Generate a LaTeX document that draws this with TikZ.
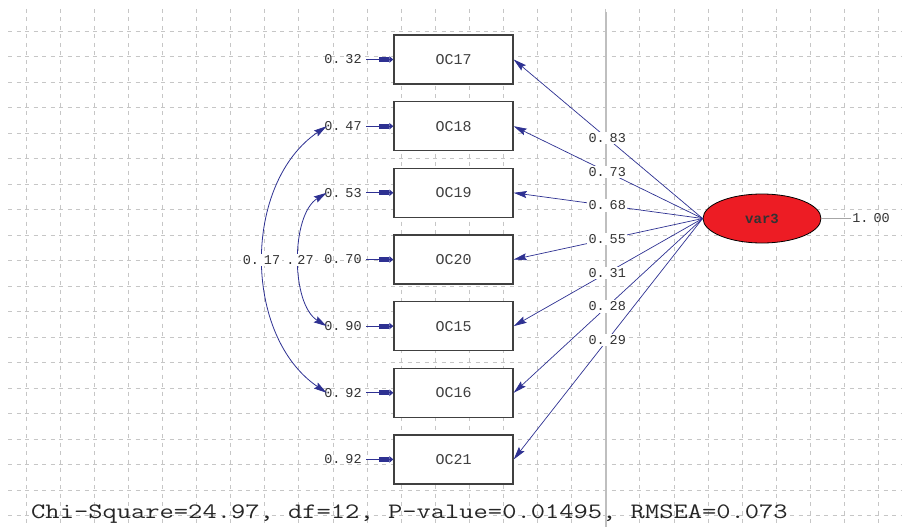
\documentclass[tikz,border=0pt]{standalone}
\usepackage{fontspec}
\newfontfamily\lmono{Liberation Mono}
\usetikzlibrary{arrows.meta,shapes.geometric}
\definecolor{lblue}{RGB}{46,49,146}
\definecolor{gridgray}{RGB}{198,198,198}
\definecolor{lred}{RGB}{237,28,36}
\newcommand\nv[2]{#1.\kern5pt#2}
\begin{document}
\begin{tikzpicture}[x=1pt,y=-1pt,
  ind/.style={draw=black!75, line width=1.4pt, fill=white, minimum width=119pt, minimum height=49pt, inner sep=0pt, font=\lmono\fontsize{15}{15}\selectfont, text=black!75},
  num/.style={font=\lmono\fontsize{13.5}{13.5}\selectfont, text=black!80, inner sep=1.5pt},
  lab/.style={num, fill=white},
  errarr/.style={lblue, line width=0.9pt, -{Rectangle[length=10pt,width=4.8pt]Triangle[length=4pt,width=6.5pt]}},
  ldarr/.style={lblue, line width=0.7pt, -{Stealth[length=13pt,width=7pt,inset=2pt]}},
  corarr/.style={lblue, line width=0.8pt, {Stealth[length=13pt,width=7pt,inset=2pt]}-{Stealth[length=13pt,width=7pt,inset=2pt]}},
  gridline/.style={gridgray, line width=0.8pt, dash pattern=on 4pt off 4.5pt},
  latent/.style={draw=black, line width=0.8pt, fill=lred, ellipse, minimum width=118pt, minimum height=49pt, inner sep=0pt, font=\lmono\bfseries\fontsize{14}{14}\selectfont, text=black!80}
]
\useasboundingbox (0,0) rectangle (902,527);
\fill[white] (0,0) rectangle (902,527);
\foreach \k in {0,...,19} \draw[gridline] (8,31+25.5*\k) -- (902,31+25.5*\k);
\foreach \k in {0,...,25} \draw[gridline] (26+34.1*\k,9) -- (26+34.1*\k,527);
\draw[gray!50, line width=1.3pt] (606,12) -- (606,527);

% indicators
\node[ind] (OC17) at (453.5,59.5) {OC17};
\node[ind] (OC18) at (453.5,126.2) {OC18};
\node[ind] (OC19) at (453.5,192.8) {OC19};
\node[ind] (OC20) at (453.5,259.5) {OC20};
\node[ind] (OC15) at (453.5,326.1) {OC15};
\node[ind] (OC16) at (453.5,392.8) {OC16};
\node[ind] (OC21) at (453.5,459.4) {OC21};

% error variances
\node[num] (e17) at (343,59.5) {\nv{0}{32}};
\node[num] (e18) at (343,126.2) {\nv{0}{47}};
\node[num] (e19) at (343,192.8) {\nv{0}{53}};
\node[num] (e20) at (343,259.5) {\nv{0}{70}};
\node[num] (e15) at (343,326.1) {\nv{0}{90}};
\node[num] (e16) at (343,392.8) {\nv{0}{92}};
\node[num] (e21) at (343,459.4) {\nv{0}{92}};
\foreach \i in {17,18,19,20,15,16,21}
  \draw[errarr] ([xshift=3pt]e\i.east) -- (OC\i.west);

% correlations
\draw[corarr] ([xshift=4pt]e18.west) .. controls +(-84,57) and +(-84,-57) .. ([xshift=4pt]e16.west);
\draw[corarr] ([xshift=4pt]e19.west) .. controls +(-36,22) and +(-36,-22) .. ([xshift=4pt]e15.west);
\node[lab] (c17) at (261.5,260) {\nv{0}{17}};
\node[lab] (c27) at (300,260) {.\kern3pt27};

% latent
\node[latent] (var3) at (762,218.5) {var3};
\draw[ldarr] (var3.west) -- node[lab,pos=0.505] (l17) {\nv{0}{83}} (OC17.east);
\draw[ldarr] (var3.west) -- node[lab,pos=0.505] (l18) {\nv{0}{73}} (OC18.east);
\draw[ldarr] (var3.west) -- node[lab,pos=0.505] (l19) {\nv{0}{68}} (OC19.east);
\draw[ldarr] (var3.west) -- node[lab,pos=0.505] (l20) {\nv{0}{55}} (OC20.east);
\draw[ldarr] (var3.west) -- node[lab,pos=0.505] (l15) {\nv{0}{31}} (OC15.east);
\draw[ldarr] (var3.west) -- node[lab,pos=0.505] (l16) {\nv{0}{28}} (OC16.east);
\draw[ldarr] (var3.west) -- node[lab,pos=0.505] (l21) {\nv{0}{29}} (OC21.east);

\node[num] (v1) at (871,218.5) {\nv{1}{00}};
\draw[gray!70, line width=0.8pt] (var3.east) -- (v1.west);

\node[font=\ttfamily\fontsize{22}{22}\selectfont, text=black!85, anchor=base west, inner sep=0pt] (fit) at (31,518) {\scalebox{1.26}[1]{Chi-Square=24.97, df=12, P-value=0.01495, RMSEA=0.073}};
\end{tikzpicture}
\end{document}
